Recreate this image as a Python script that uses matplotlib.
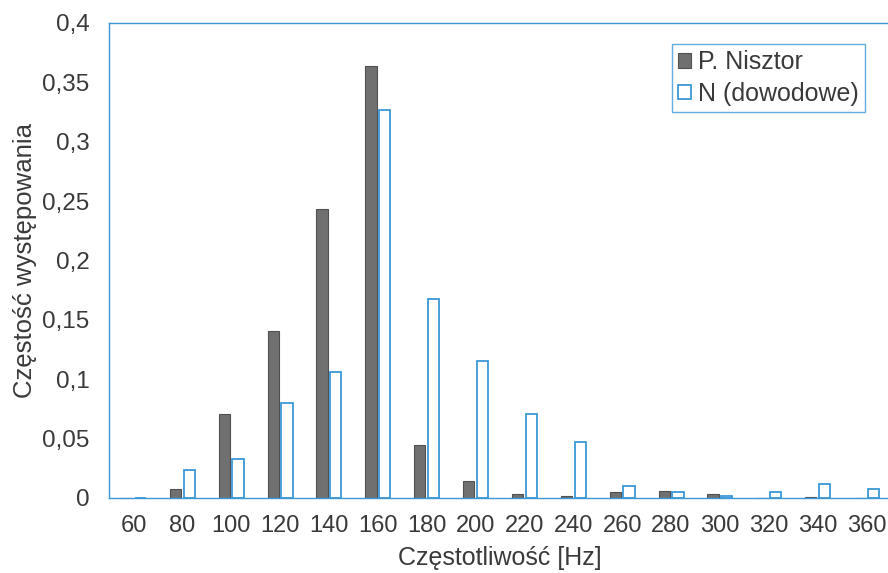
import numpy as np
import matplotlib
matplotlib.use("Agg")
import matplotlib.pyplot as plt
from matplotlib.ticker import FuncFormatter

plt.rcParams['font.family'] = ['Liberation Sans', 'DejaVu Sans']

# frequency bins [Hz]
freqs = [60, 80, 100, 120, 140, 160, 180, 200, 220, 240, 260, 280, 300, 320, 340, 360]

# relative frequency of occurrence
nisztor = [0.0, 0.008, 0.071, 0.141, 0.243, 0.364, 0.045, 0.014, 0.003, 0.002,
           0.005, 0.006, 0.003, 0.0, 0.001, 0.0]
dowodowe = [0.0, 0.024, 0.033, 0.080, 0.106, 0.327, 0.168, 0.115, 0.071, 0.047,
            0.010, 0.005, 0.002, 0.005, 0.012, 0.008]

blue = '#3b97d6'
txt = '#3a3a3a'

fig = plt.figure(figsize=(8.88, 5.73), dpi=100)
ax = fig.add_axes([109 / 888, 1 - 498 / 573, 782 / 888, 475 / 573])

x = np.arange(len(freqs))
w = 0.23
ax.bar(x - 0.14, nisztor, width=w, color='#707070', edgecolor='#505050',
       linewidth=0.8, label='P. Nisztor')
ax.bar(x + 0.14, dowodowe, width=w, color='white', edgecolor=blue,
       linewidth=1.3, label='N (dowodowe)')

ax.set_xlim(-0.5, len(freqs) - 0.5)
ax.set_ylim(0, 0.4)
ax.set_xticks(x)
ax.set_xticklabels([str(f) for f in freqs])
ax.set_yticks(np.arange(0, 0.401, 0.05))
ax.yaxis.set_major_formatter(FuncFormatter(
    lambda v, p: '0' if abs(v) < 1e-9 else ('%g' % round(v, 2)).replace('.', ',')))

ax.tick_params(axis='both', length=0, labelsize=17.5, colors=txt)
ax.tick_params(axis='x', labelsize=17)
ax.tick_params(axis='y', pad=14)
ax.tick_params(axis='x', pad=12)

for s in ax.spines.values():
    s.set_color(blue)
    s.set_linewidth(1.0)

ax.set_xlabel('Częstotliwość [Hz]', fontsize=18, color=txt, labelpad=7)
ax.set_ylabel('Częstość występowania', fontsize=18.5, color=txt, labelpad=4)

leg = ax.legend(loc='upper right', bbox_to_anchor=(865 / 888, 1 - 44 / 573),
                bbox_transform=fig.transFigure, fontsize=18, frameon=True,
                fancybox=False, handlelength=0.5, handleheight=0.5,
                handletextpad=0.3, borderpad=0.25, labelspacing=0.3,
                borderaxespad=0)
leg.get_frame().set_edgecolor(blue)
leg.get_frame().set_linewidth(1.0)
for t in leg.get_texts():
    t.set_color(txt)

fig.savefig('out.png', dpi=100)
